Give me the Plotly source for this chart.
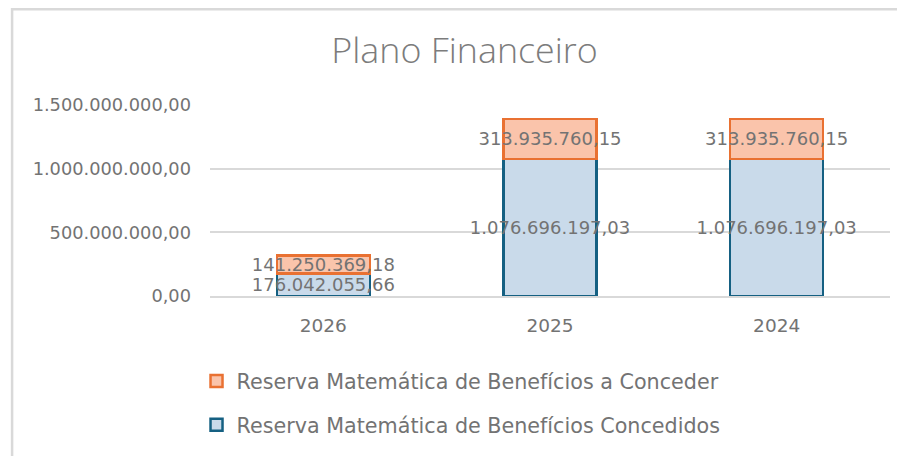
import plotly.graph_objects as go

years = ["2026", "2025", "2024"]
concedidos = [176042055.66, 1076696197.03, 1076696197.03]
a_conceder = [141250369.18, 313935760.15, 313935760.15]
name_concedidos = "Reserva Matemática de Benefícios Concedidos"
name_a_conceder = "Reserva Matemática de Benefícios a Conceder"
y_ticks = [0, 500000000, 1000000000, 1500000000]

# page body has an 8px margin, so the figure is drawn 8px in from the window
OFF = 8
W, H = 905 - OFF, 456 - OFF
ML, MR, MT, MB = 209.5 - OFF, 14.5, 105 - OFF, 160
PW, PH = W - ML - MR, H - MT - MB

TXT = "#737373"
FONT = "DejaVu Sans"

fig = go.Figure()
fig.add_trace(go.Bar(
    x=years, y=concedidos, name=name_concedidos, legendgroup="g1", legendrank=2,
    marker=dict(color="#C9DAEA", line=dict(color="#156082", width=2.5)),
    texttemplate="%{y:,.2f}", textposition="inside", insidetextanchor="middle",
    textangle=0, textfont=dict(color=TXT, size=18, family=FONT),
    constraintext="none", cliponaxis=False,
))
fig.add_trace(go.Bar(
    x=years, y=a_conceder, name=name_a_conceder, legendgroup="g2", legendrank=1,
    marker=dict(color="#FAC4AB", line=dict(color="#E97132", width=2.5)),
    texttemplate="%{y:,.2f}", textposition="inside", insidetextanchor="middle",
    textangle=0, textfont=dict(color=TXT, size=18, family=FONT),
    constraintext="none", cliponaxis=False,
))

fig.update_layout(
    width=W, height=H,
    margin=dict(l=ML, r=MR, t=MT, b=MB, autoexpand=False),
    paper_bgcolor="white", plot_bgcolor="white",
    barmode="stack", bargap=0.59,
    separators=",.",
    uniformtext=dict(mode="show", minsize=18),
    font=dict(family=FONT, color=TXT, size=18),
    title=dict(text="Plano Financeiro", x=(464.5 - OFF) / W, xanchor="center",
               y=1 - (50 - OFF) / H, yanchor="middle",
               font=dict(family="Open Sans", size=35.8, color="#7c7c7c", weight=300)),
    xaxis=dict(showgrid=False, showline=True, linecolor="#d9d9d9", linewidth=2,
               ticks="", ticklabelstandoff=12, tickfont=dict(size=18.5, color=TXT)),
    yaxis=dict(range=[0, 1500000000], tickvals=y_ticks, tickformat=",.2f",
               showgrid=True, gridcolor="#d9d9d9", gridwidth=1.5,
               zeroline=False, showline=False, ticks="", ticklen=0,
               ticklabelstandoff=18,
               tickfont=dict(size=17.8, color=TXT)),
    legend=dict(orientation="v", traceorder="grouped",
                x=(196 - OFF - ML) / PW, xanchor="left",
                y=(H - MB - (361 - OFF)) / PH, yanchor="top",
                tracegroupgap=14, font=dict(size=20.7, color=TXT, family=FONT),
                bgcolor="rgba(0,0,0,0)"),
    showlegend=True,
)

# chart-area border (light grey frame)
fig.add_shape(type="rect", xref="paper", yref="paper",
              x0=(11.3 - OFF - ML) / PW, x1=1.2,
              y0=-1.2, y1=(H - MB - (9.2 - OFF)) / PH,
              line=dict(color="#d9d9d9", width=2.5), fillcolor="rgba(0,0,0,0)",
              layer="below")

fig.write_html("out.html")
